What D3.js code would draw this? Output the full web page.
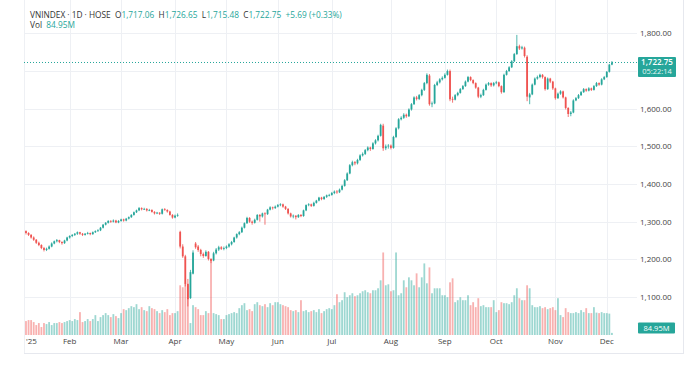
<!DOCTYPE html>
<html>
<head>
<meta charset="utf-8">
<script src="https://cdn.jsdelivr.net/npm/d3@7"></script>
<style>
  body { margin: 0; background: #fff; }
  svg { display: block; }
  text { font-family: "Open Sans", sans-serif; }
</style>
</head>
<body>
<div id="chart"></div>
<script>
// daily rows: [day, open, high, low, close, volume (M)]
const jan = [
  [2,1275,1277,1266,1270,560],[3,1270,1272,1262,1265,600],[6,1265,1267,1255,1258,600],
  [7,1258,1261,1249,1252,520],[8,1252,1254,1241,1244,400],[9,1244,1247,1235,1238,480],
  [10,1238,1240,1227,1230,320],[13,1230,1233,1221,1225,480],[14,1225,1231,1222,1228,440],
  [15,1228,1237,1226,1234,520],[16,1234,1245,1232,1242,400],[17,1242,1250,1240,1248,480],
  [20,1248,1254,1245,1251,480],[21,1251,1252,1243,1246,520],[22,1246,1248,1239,1243,480],
  [23,1243,1252,1241,1250,520],[24,1250,1260,1248,1258,560]
];
const feb = [
  [3,1258,1264,1255,1262,600],[4,1262,1267,1259,1265,560],[5,1265,1270,1262,1268,640],
  [6,1268,1274,1265,1272,600],[7,1272,1273,1265,1268,920],[10,1268,1270,1262,1265,520],
  [11,1265,1270,1263,1268,560],[12,1268,1273,1266,1270,640],[13,1270,1271,1264,1267,560],
  [14,1267,1274,1265,1272,640],[17,1272,1277,1270,1275,800],[18,1275,1280,1273,1277,560],
  [19,1277,1286,1275,1284,720],[20,1284,1294,1282,1292,800],[21,1292,1299,1290,1297,880],
  [24,1297,1304,1295,1302,800],[25,1302,1304,1297,1300,720],[26,1300,1306,1298,1303,840],
  [27,1303,1305,1296,1298,760],[28,1298,1304,1296,1302,680]
];
const mar = [
  [3,1302,1308,1300,1306,880],[4,1306,1308,1300,1303,1040],[5,1303,1310,1301,1308,1000],
  [6,1308,1314,1306,1312,1080],[7,1312,1320,1310,1318,1160],[10,1318,1327,1316,1325,1120],
  [11,1325,1332,1323,1330,1240],[12,1330,1339,1328,1336,1040],[13,1336,1338,1330,1333,1120],
  [14,1333,1337,1331,1334,1000],[17,1334,1336,1327,1330,960],[18,1330,1334,1328,1331,1160],
  [19,1331,1333,1324,1326,1080],[20,1326,1328,1319,1322,1040],[21,1322,1326,1320,1324,960],
  [24,1324,1325,1318,1321,880],[25,1321,1335,1319,1333,1000],[26,1333,1336,1329,1331,920],
  [27,1331,1333,1324,1327,1040],[28,1327,1329,1316,1318,800],[31,1318,1320,1308,1311,880]
];
const apr = [
  [1,1311,1319,1309,1316,880],[2,1316,1322,1313,1318,960],[3,1273,1276,1229,1234,2000],
  [4,1234,1240,1204,1208,1920],[8,1208,1212,1128,1135,2080],[9,1135,1148,1075,1094,2000],
  [10,1097,1172,1095,1166,480],[11,1162,1224,1160,1218,1200],[14,1242,1246,1228,1232,1120],
  [15,1234,1238,1220,1225,1040],[16,1225,1228,1208,1214,800],[17,1214,1218,1204,1209,800],
  [18,1209,1224,1207,1220,960],[21,1220,1222,1197,1201,880],[22,1201,1203,1190,1196,3040],
  [23,1197,1220,1195,1216,880],[24,1216,1230,1213,1226,840],[25,1226,1236,1222,1232,800],
  [28,1232,1235,1225,1228,640],[29,1228,1234,1224,1230,640]
];
const may = [
  [5,1230,1237,1227,1234,800],[6,1234,1243,1231,1240,840],[7,1240,1249,1237,1246,880],
  [8,1246,1260,1244,1258,920],[9,1258,1269,1255,1267,880],[12,1267,1275,1264,1272,1080],
  [13,1272,1287,1270,1284,1200],[14,1284,1298,1282,1296,1280],[15,1296,1313,1294,1310,1000],
  [16,1310,1312,1297,1300,1040],[19,1300,1303,1292,1297,960],[20,1297,1308,1295,1305,1240],
  [21,1305,1320,1303,1318,1320],[22,1318,1320,1300,1314,1200],[23,1314,1324,1311,1322,1160],
  [26,1322,1325,1292,1320,1240],[27,1320,1334,1318,1332,1120],[28,1332,1341,1330,1338,1280],
  [29,1338,1340,1332,1336,1200],[30,1336,1343,1334,1340,1320]
];
const jun = [
  [2,1340,1347,1338,1344,1320],[3,1344,1349,1341,1346,1240],[4,1346,1348,1337,1340,1200],
  [5,1340,1342,1331,1334,1160],[6,1334,1336,1319,1322,1120],[9,1322,1324,1311,1314,1000],
  [10,1314,1319,1309,1316,960],[11,1316,1317,1306,1312,1000],[12,1312,1320,1310,1318,920],
  [13,1318,1320,1312,1315,1400],[16,1315,1332,1313,1330,960],[17,1330,1346,1328,1344,1000],
  [18,1344,1349,1341,1346,920],[19,1346,1348,1339,1342,960],[20,1342,1353,1340,1350,1000],
  [23,1350,1358,1348,1356,920],[24,1356,1366,1354,1364,1040],[25,1364,1366,1357,1360,880],
  [26,1360,1368,1358,1366,960],[27,1366,1372,1363,1370,1040],[30,1370,1374,1367,1371,1080]
];
const jul = [
  [1,1371,1379,1369,1376,1040],[2,1376,1383,1373,1380,1200],[3,1380,1384,1374,1378,1640],
  [4,1378,1388,1376,1385,1320],[7,1385,1398,1383,1395,1400],[8,1395,1413,1393,1410,1720],
  [9,1410,1431,1408,1428,1520],[10,1428,1453,1426,1450,1600],[11,1450,1462,1447,1458,1680],
  [14,1458,1461,1450,1455,1560],[15,1455,1467,1452,1464,1600],[16,1464,1479,1461,1476,1680],
  [17,1476,1484,1473,1480,1760],[18,1480,1493,1477,1490,1800],[21,1490,1500,1487,1497,1720],
  [22,1497,1499,1488,1493,1680],[23,1493,1511,1491,1508,1800],[24,1508,1519,1505,1516,1800],
  [25,1516,1531,1513,1528,1880],[28,1528,1560,1526,1557,2200],[29,1555,1560,1488,1495,3320],
  [30,1495,1505,1490,1500,2000],[31,1500,1506,1494,1502,2040]
];
const aug = [
  [1,1502,1505,1492,1496,1760],[4,1496,1528,1494,1525,1800],[5,1525,1551,1522,1548,3320],
  [6,1548,1575,1545,1572,1600],[7,1572,1580,1569,1576,1680],[8,1576,1588,1573,1584,2200],
  [11,1584,1587,1576,1580,1920],[12,1580,1601,1578,1598,2320],[13,1598,1615,1595,1612,2200],
  [14,1612,1633,1610,1630,2000],[15,1630,1634,1622,1626,2480],[18,1626,1639,1623,1636,1920],
  [19,1636,1653,1633,1650,2320],[20,1650,1671,1647,1668,2880],[21,1668,1694,1665,1690,2080],
  [22,1688,1692,1608,1612,2720],[25,1612,1619,1604,1614,1680],[26,1614,1666,1612,1663,1880],
  [27,1663,1674,1660,1670,1880],[28,1670,1681,1667,1678,1880],[29,1678,1686,1675,1682,1600]
];
const sep = [
  [3,1682,1694,1680,1690,1600],[4,1690,1704,1688,1700,1520],[5,1700,1704,1620,1625,2120],
  [8,1626,1632,1616,1624,2280],[9,1624,1639,1622,1636,1320],[10,1636,1645,1633,1642,1400],
  [11,1642,1655,1640,1652,1520],[12,1652,1663,1650,1660,1400],[15,1660,1675,1658,1672,1400],
  [16,1672,1687,1670,1684,1600],[17,1684,1686,1673,1676,1200],[18,1676,1678,1665,1668,1320],
  [19,1668,1670,1653,1656,1120],[22,1656,1658,1628,1632,1480],[23,1632,1640,1628,1636,1160],
  [24,1636,1653,1634,1650,1200],[25,1650,1667,1648,1664,1120],[26,1664,1671,1661,1668,1120],
  [29,1668,1670,1658,1662,1120],[30,1662,1671,1659,1668,1400]
];
const oct = [
  [1,1668,1674,1665,1670,920],[2,1670,1672,1657,1660,1000],[3,1660,1662,1640,1644,1320],
  [6,1644,1693,1642,1690,1280],[7,1690,1703,1688,1700,1280],[8,1700,1713,1698,1710,1240],
  [9,1710,1729,1708,1726,1320],[10,1726,1748,1724,1745,1600],[13,1745,1796,1743,1766,1880],
  [14,1766,1770,1756,1760,1480],[15,1760,1767,1757,1763,1400],[16,1762,1765,1736,1740,1400],
  [17,1738,1742,1620,1632,2000],[20,1630,1642,1612,1638,1880],[21,1638,1667,1636,1664,1200],
  [22,1664,1683,1662,1680,1120],[23,1680,1688,1677,1684,1120],[24,1684,1693,1681,1690,1160],
  [27,1690,1692,1680,1684,1080],[28,1684,1686,1648,1652,1120],[29,1652,1683,1650,1680,1040],
  [30,1680,1682,1668,1672,1080],[31,1672,1674,1650,1654,1120]
];
const nov = [
  [3,1654,1656,1624,1628,1000],[4,1628,1643,1626,1640,1480],[5,1640,1649,1637,1646,800],
  [6,1646,1648,1627,1630,720],[7,1630,1632,1598,1602,1080],[10,1602,1604,1578,1586,920],
  [11,1586,1594,1580,1590,880],[12,1590,1625,1588,1622,880],[13,1622,1631,1620,1628,920],
  [14,1628,1639,1626,1636,880],[17,1636,1647,1634,1644,1000],[18,1644,1655,1642,1652,920],
  [19,1652,1654,1645,1648,1080],[20,1648,1657,1646,1654,880],[21,1654,1656,1647,1650,880],
  [24,1650,1663,1648,1660,1120],[25,1660,1671,1658,1668,900],[26,1668,1670,1661,1664,880],
  [27,1664,1681,1662,1678,920],[28,1678,1687,1676,1684,880]
];
const dec = [
  [1,1684,1700,1682,1698,880],[2,1698,1719,1696,1717.06,860],[3,1717.06,1726.65,1715.48,1722.75,84.95]
];

const months = [jan, feb, mar, apr, may, jun, jul, aug, sep, oct, nov, dec];
const monthLabels = ["'25", "Feb", "Mar", "Apr", "May", "Jun", "Jul", "Aug", "Sep", "Oct", "Nov", "Dec"];
const priceTicks = [1100, 1200, 1300, 1400, 1500, 1600, 1700, 1800];
const countdown = "05:22:14";

const W = 698, H = 367;
const paneRight = 637, paneBottom = 335;
const up = "#26a69a", down = "#ef5350";

const bars = [];
const monthStart = [];
months.forEach((rows, m) => {
  monthStart.push(bars.length);
  rows.forEach(r => bars.push({m, day: r[0], o: r[1], h: r[2], l: r[3], c: r[4], v: r[5]}));
});
const last = bars[bars.length - 1], prev = bars[bars.length - 2];

const svg = d3.select("#chart").append("svg")
  .attr("width", W).attr("height", H);
svg.append("rect").attr("width", W).attr("height", H).attr("fill", "#fff");

const x = d3.scaleBand()
  .domain(d3.range(bars.length))
  .range([24.7, 613.2])
  .paddingInner(0.3)
  .paddingOuter(0.15);
const cx = i => x(i) + x.bandwidth() / 2;

const y = d3.scaleLinear().domain([1100, 1800]).range([297, 33.4]);
const yv = d3.scaleLinear().domain([0, 3500]).range([paneBottom, 248]);

// grid
const grid = svg.append("g").attr("stroke", "#eef0f4").attr("stroke-width", 1);
grid.selectAll(".hg").data(priceTicks).join("line")
  .attr("x1", 24).attr("x2", paneRight)
  .attr("y1", d => Math.round(y(d)) + 0.5).attr("y2", d => Math.round(y(d)) + 0.5);
grid.selectAll(".vg").data(monthStart.slice(1)).join("line")
  .attr("x1", d => Math.round(cx(d)) + 0.5).attr("x2", d => Math.round(cx(d)) + 0.5)
  .attr("y1", 0).attr("y2", paneBottom);

// frame
svg.append("line").attr("x1", 24.5).attr("x2", 24.5).attr("y1", 0).attr("y2", 353)
  .attr("stroke", "#eef0f4");
svg.append("line").attr("x1", 683.5).attr("x2", 683.5).attr("y1", 0).attr("y2", 353)
  .attr("stroke", "#e6e8ee");
svg.append("line").attr("x1", 24).attr("x2", 684).attr("y1", 353.5).attr("y2", 353.5)
  .attr("stroke", "#e6e8ee");

// volume
svg.append("g").selectAll("rect").data(bars).join("rect")
  .attr("x", (d, i) => x(i))
  .attr("width", x.bandwidth())
  .attr("y", d => yv(d.v))
  .attr("height", d => paneBottom - yv(d.v))
  .attr("fill", d => d.c >= d.o ? up : down)
  .attr("fill-opacity", 0.45);

// candles
const candles = svg.append("g").selectAll("g").data(bars).join("g")
  .attr("stroke", d => d.c >= d.o ? up : down)
  .attr("fill", d => d.c >= d.o ? up : down);
candles.append("line")
  .attr("x1", (d, i) => cx(i)).attr("x2", (d, i) => cx(i))
  .attr("y1", d => y(d.h)).attr("y2", d => y(d.l))
  .attr("stroke-width", 0.8);
candles.append("rect")
  .attr("x", (d, i) => x(i))
  .attr("width", x.bandwidth())
  .attr("y", d => y(Math.max(d.o, d.c)))
  .attr("height", d => Math.max(0.8, Math.abs(y(d.o) - y(d.c))))
  .attr("stroke", "none");

// last price line
svg.append("line")
  .attr("x1", 24).attr("x2", paneRight)
  .attr("y1", y(last.c)).attr("y2", y(last.c))
  .attr("stroke", up).attr("stroke-width", 1).attr("stroke-dasharray", "1,2");

// price axis
const yAxis = svg.append("g")
  .attr("transform", `translate(${paneRight},0)`)
  .call(d3.axisRight(y).tickValues(priceTicks.filter(t => Math.abs(y(t) - y(last.c)) > 14))
    .tickSize(0).tickPadding(3).tickFormat(d3.format(",.2f")));
yAxis.select(".domain").remove();
yAxis.selectAll("text").attr("font-size", 8).attr("fill", "#444").attr("font-family", "Open Sans");

// time axis
const xAxis = svg.append("g")
  .attr("transform", `translate(0,${paneBottom})`)
  .call(d3.axisBottom(x).tickValues(monthStart).tickSize(0).tickPadding(3)
    .tickFormat((d, i) => monthLabels[i]));
xAxis.select(".domain").remove();
xAxis.selectAll("text").attr("font-size", 8).attr("fill", "#444").attr("font-family", "Open Sans");
xAxis.select(".tick text").attr("text-anchor", "start").attr("dx", 0);

// price label
const py = y(last.c);
svg.append("rect").attr("x", 638).attr("y", py - 5.5).attr("width", 38).attr("height", 20)
  .attr("fill", up).attr("rx", 1);
svg.append("text").attr("x", 657).attr("y", py + 2.5).attr("text-anchor", "middle")
  .attr("font-size", 8).attr("font-weight", 600).attr("fill", "#fff")
  .text(d3.format(",.2f")(last.c));
svg.append("text").attr("x", 657).attr("y", py + 11.5).attr("text-anchor", "middle")
  .attr("font-size", 7.5).attr("fill", "#e8f6f4")
  .text(countdown);

// volume label
const vy = Math.min(yv(last.v), 328);
svg.append("rect").attr("x", 638).attr("y", vy - 5.5).attr("width", 37).attr("height", 11)
  .attr("fill", up).attr("rx", 1);
svg.append("text").attr("x", 656.5).attr("y", vy + 2.8).attr("text-anchor", "middle")
  .attr("font-size", 7.5).attr("fill", "#fff")
  .text(d3.format(".2f")(last.v) + "M");

// legend
const f2 = d3.format(",.2f");
const chg = last.c - prev.c;
const legend = svg.append("text").attr("x", 30).attr("y", 17.5).attr("font-size", 8.3)
  .attr("fill", "#333").style("white-space", "pre");
legend.append("tspan").text("VNINDEX · 1D · HOSE  ");
[["O", last.o], ["H", last.h], ["L", last.l], ["C", last.c]].forEach(([k, v]) => {
  legend.append("tspan").text(k);
  legend.append("tspan").attr("fill", up).text(f2(v) + "  ");
});
legend.append("tspan").attr("fill", up)
  .text((chg >= 0 ? "+" : "") + d3.format(".2f")(chg) + " (" + (chg >= 0 ? "+" : "") + d3.format(".2f")(chg / prev.c * 100) + "%)");

const vol = svg.append("text").attr("x", 30).attr("y", 27.5).attr("font-size", 8.3)
  .attr("fill", "#333").style("white-space", "pre");
vol.append("tspan").text("Vol  ");
vol.append("tspan").attr("fill", up).text(d3.format(".2f")(last.v) + "M");
</script>
</body>
</html>
